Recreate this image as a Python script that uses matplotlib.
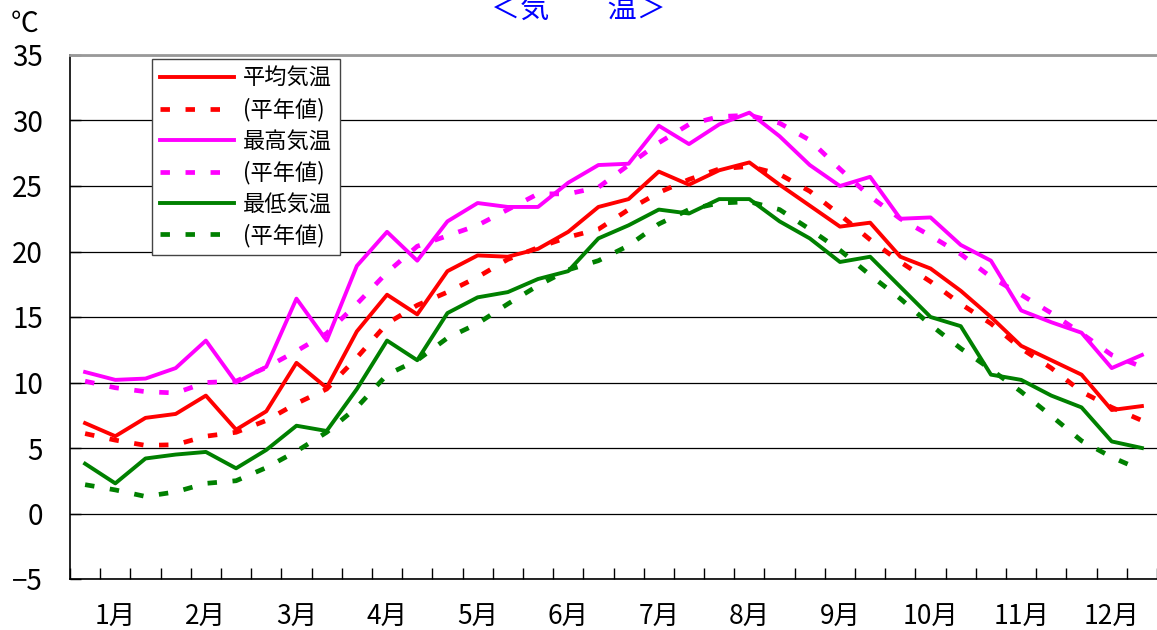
import matplotlib
matplotlib.use('Agg')
import matplotlib.pyplot as plt
import numpy as np

plt.rcParams['font.family'] = ['Noto Sans CJK JP', 'DejaVu Sans']

# 旬別の値（上旬・中旬・下旬 × 12か月）
months = ['1月', '2月', '3月', '4月', '5月', '6月',
          '7月', '8月', '9月', '10月', '11月', '12月']

mean_temp = [6.9, 5.9, 7.3, 7.6, 9.0, 6.4, 7.8, 11.5, 9.6, 13.9, 16.7, 15.2,
             18.5, 19.7, 19.6, 20.2, 21.5, 23.4, 24.0, 26.1, 25.1, 26.2, 26.8, 25.1,
             23.5, 21.9, 22.2, 19.6, 18.7, 17.0, 15.0, 12.8, 11.7, 10.6, 7.9, 8.2]
mean_normal = [6.1, 5.6, 5.2, 5.25, 5.9, 6.2, 7.1, 8.4, 9.5, 11.9, 14.5, 15.9,
               16.9, 18.05, 19.4, 20.3, 21.1, 21.7, 23.2, 24.5, 25.5, 26.3, 26.5, 25.9,
               24.6, 22.8, 20.9, 19.2, 17.7, 16.0, 14.5, 12.6, 11.1, 9.3, 8.1, 7.1]
max_temp = [10.8, 10.2, 10.3, 11.1, 13.2, 10.0, 11.2, 16.4, 13.2, 18.9, 21.5, 19.3,
            22.3, 23.7, 23.4, 23.4, 25.25, 26.6, 26.7, 29.6, 28.2, 29.7, 30.6, 28.8,
            26.6, 25.0, 25.7, 22.5, 22.6, 20.5, 19.3, 15.5, 14.6, 13.8, 11.1, 12.1]
max_normal = [10.1, 9.6, 9.3, 9.2, 10.0, 10.1, 11.15, 12.4, 13.75, 16.0, 18.4, 20.4,
              21.2, 22.0, 23.2, 24.4, 24.4, 24.9, 26.6, 28.3, 29.7, 30.3, 30.4, 29.8,
              28.5, 26.3, 24.2, 22.5, 21.2, 19.8, 18.05, 16.7, 15.3, 13.75, 12.1, 11.2]
min_temp = [3.8, 2.3, 4.2, 4.5, 4.7, 3.45, 4.85, 6.7, 6.3, 9.5, 13.2, 11.7,
            15.3, 16.5, 16.9, 17.9, 18.5, 21.0, 22.0, 23.2, 22.9, 24.0, 24.0, 22.3,
            21.0, 19.2, 19.6, 17.3, 15.0, 14.3, 10.6, 10.2, 9.0, 8.1, 5.5, 5.0]
min_normal = [2.2, 1.8, 1.3, 1.65, 2.3, 2.5, 3.5, 4.75, 6.2, 8.1, 10.6, 11.7,
              13.4, 14.5, 16.0, 17.4, 18.6, 19.3, 20.45, 22.1, 23.2, 23.7, 23.8, 23.2,
              21.7, 20.1, 18.2, 16.4, 14.4, 12.6, 11.0, 9.3, 7.45, 5.55, 4.3, 3.3]

x = np.arange(len(mean_temp))

W, H = 1157, 630
fig = plt.figure(figsize=(W / 100, H / 100), dpi=100)
ax = fig.add_axes([70 / W, 51 / H, (W - 70) / W, 524 / H])

series = [
    (mean_temp, mean_normal, '#ff0000', '平均気温'),
    (max_temp, max_normal, '#ff00ff', '最高気温'),
    (min_temp, min_normal, '#008000', '最低気温'),
]
for obs, nrm, color, name in series:
    ax.plot(x, obs, color=color, lw=2.8, label=name, zorder=3)
    ax.plot(x, nrm, color=color, lw=3.4, dashes=(2.0, 3.3),
            label='(平年値)', zorder=4)

ax.set_ylim(-5, 35)
ax.set_xlim(-0.5, -0.5 + (W - 70) / 30.38)
ax.set_yticks(np.arange(-5, 36, 5))
ax.set_yticklabels([f'{v}' if v >= 0 else f'\u2212{-v}' for v in range(-5, 36, 5)])
ax.yaxis.grid(True, color='black', lw=0.9)
ax.set_axisbelow(True)

# 旬の区切りに目盛り、月名は中旬の位置に
ax.set_xticks(np.arange(-0.5, 36, 1))
ax.set_xticklabels([])
ax.set_xticks(x[1::3], months, minor=True)
ax.tick_params(axis='x', which='major', direction='in', length=8, width=1)
ax.tick_params(axis='x', which='minor', length=0, pad=18, labelsize=19)
ax.tick_params(axis='y', direction='in', length=8, width=1, pad=19.5, labelsize=20)

ax.spines['right'].set_visible(False)
ax.spines['top'].set_color('#999999')
ax.spines['top'].set_linewidth(2)
ax.spines['left'].set_linewidth(1.2)
ax.spines['bottom'].set_linewidth(1.2)

leg = ax.legend(loc='upper left', bbox_to_anchor=((152 - 70) / (W - 70), (579 - 59) / 524),
                borderaxespad=0, fontsize=16, handlelength=3.35, handletextpad=0.38,
                labelspacing=0.36, borderpad=0.36, fancybox=False, framealpha=1,
                edgecolor='#444444')
leg.get_frame().set_linewidth(1)

fig.text(11 / W, 1 - 24 / H, '℃', fontsize=20, va='center', ha='left')
fig.text(0.5, 1 - 10 / H, '＜気　　温＞', fontsize=21, color='#0000ff',
         ha='center', va='center')

fig.savefig('out.png', dpi=100)
